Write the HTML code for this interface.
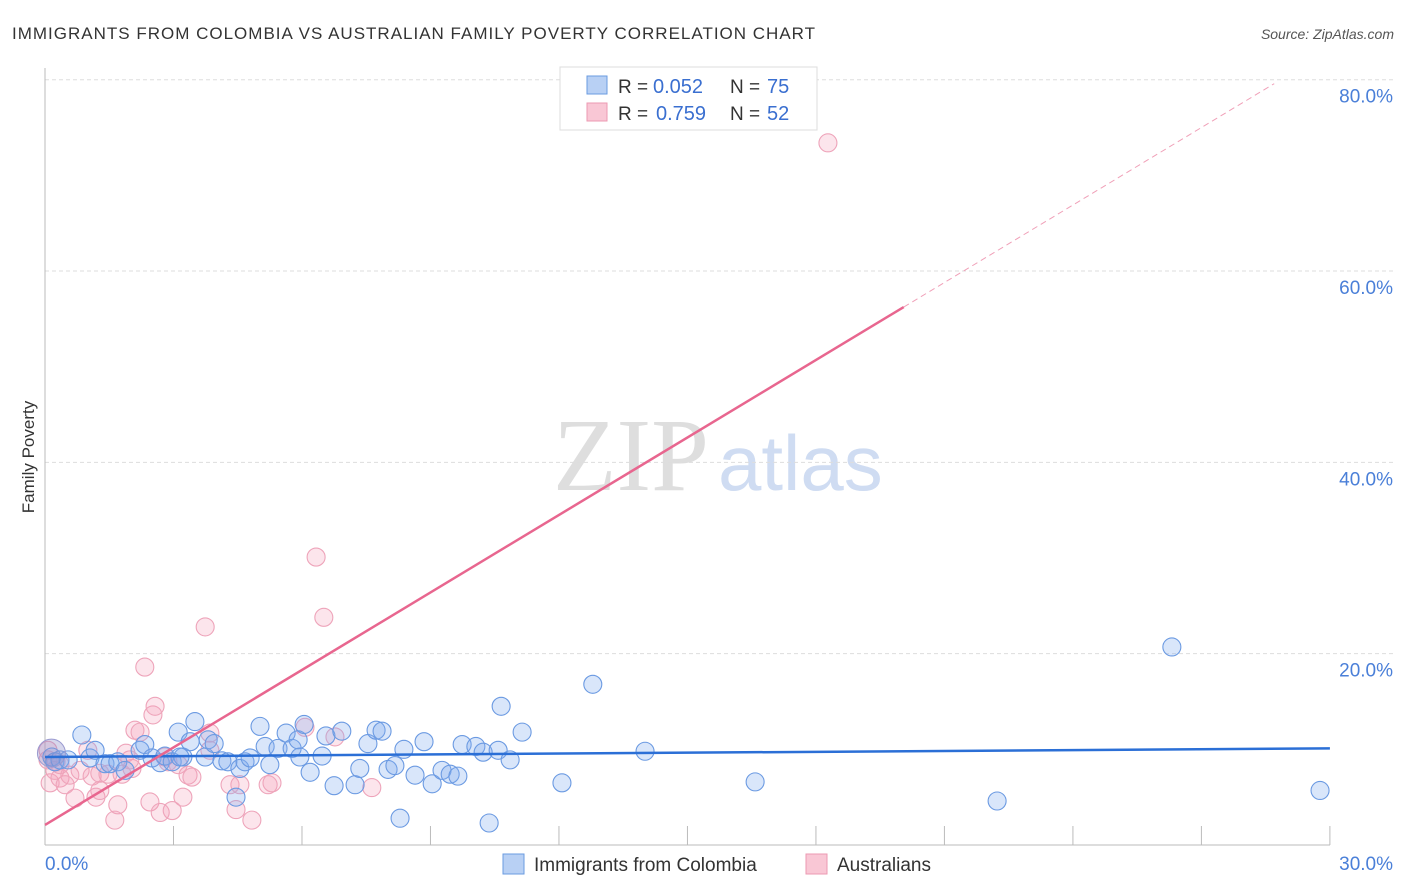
<!DOCTYPE html>
<html><head><meta charset="utf-8"><style>
body{margin:0;background:#fff;font-family:"Liberation Sans",sans-serif}
svg{display:block}
</style></head><body>
<svg id="chart" width="1406" height="892" viewBox="0 0 1406 892">
<text x="12" y="39" font-size="17" fill="#333" letter-spacing="1">IMMIGRANTS FROM COLOMBIA VS AUSTRALIAN FAMILY POVERTY CORRELATION CHART</text>
<text x="1394" y="39" font-size="14" fill="#555" font-style="italic" text-anchor="end">Source: ZipAtlas.com</text>
<g>
<text x="553" y="490" font-size="104" font-family="Liberation Serif,serif" fill="#dedede">ZIP</text>
<text x="718" y="490" font-size="78" fill="#cfdcf2">atlas</text>
</g>
<text transform="translate(34,457) rotate(-90)" font-size="17" fill="#333" text-anchor="middle">Family Poverty</text>
<g id="grid"></g><g id="axes"></g><g id="marks"></g>
<g>
<rect x="560" y="67" width="257" height="63" fill="#fff" stroke="#ddd"/>
<rect x="587" y="76" width="20" height="18" fill="#b8d0f4" stroke="#6a9be0"/>
<rect x="587" y="103" width="20" height="18" fill="#f9c7d5" stroke="#ec9ab2"/>
<text x="618" y="93" font-size="19" fill="#333">R =</text><text x="653" y="93" font-size="20" fill="#3a6fd0">0.052</text>
<text x="730" y="93" font-size="19" fill="#333">N =</text><text x="767" y="93" font-size="20" fill="#3a6fd0">75</text>
<text x="618" y="120" font-size="19" fill="#333">R =</text><text x="656" y="120" font-size="20" fill="#3a6fd0">0.759</text>
<text x="730" y="120" font-size="19" fill="#333">N =</text><text x="767" y="120" font-size="20" fill="#3a6fd0">52</text>
</g>
<g>
<rect x="503" y="854" width="21" height="20" fill="#b8d0f4" stroke="#6a9be0"/>
<text x="534" y="871" font-size="19" fill="#333">Immigrants from Colombia</text>
<rect x="806" y="854" width="21" height="20" fill="#f9c7d5" stroke="#ec9ab2"/>
<text x="837" y="871" font-size="19" fill="#333">Australians</text>
</g>
</svg>
<script>
const yTicks=[20,40,60,80];
const xTickLabels=["0.0%","30.0%"];
const blueX=[0.16,0.23,0.35,0.54,0.86,1.05,1.17,1.40,1.52,1.70,1.87,2.22,2.33,2.50,2.69,2.80,2.97,3.11,3.22,3.39,3.50,3.74,3.81,3.95,4.13,4.27,4.46,4.55,4.67,4.79,5.02,5.14,5.25,5.44,5.63,5.77,5.91,6.05,6.19,6.47,6.56,6.93,7.24,7.35,7.54,7.73,7.87,8.01,8.17,8.29,8.38,8.64,8.85,9.04,9.27,9.46,9.64,9.74,10.06,10.23,10.58,10.65,10.86,11.14,12.07,12.79,14.01,16.58,22.23,26.31,29.77,10.37,6.75,5.95,3.15];
const blueY=[9.2,8.7,8.9,8.9,11.5,9.1,9.9,8.5,8.5,8.7,7.8,9.9,10.5,9.1,8.6,9.3,8.7,11.8,9.2,10.8,12.9,9.2,11.0,10.6,8.8,8.7,5.0,8.0,8.7,9.1,12.4,10.3,8.4,10.1,11.7,10.1,11.0,12.6,7.6,9.3,11.4,11.9,6.3,8.0,10.6,12.0,11.9,7.9,8.3,2.8,10.0,7.3,10.8,6.4,7.8,7.4,7.2,10.5,10.3,9.7,9.9,14.5,8.9,11.8,6.5,16.8,9.8,6.6,4.6,20.7,5.7,2.3,6.2,9.2,9.2];
const pinkX=[0.07,0.12,0.23,0.35,0.47,0.58,0.70,0.82,1.00,1.10,1.19,1.28,1.47,1.63,1.70,1.80,1.89,2.03,2.10,2.22,2.33,2.45,2.52,2.57,2.69,2.80,2.97,3.11,3.22,3.34,3.43,3.74,3.85,4.32,4.46,4.55,4.83,5.21,5.30,6.07,6.33,6.51,6.77,7.63,18.28,0.07,0.26,1.28,1.98,2.87,3.85,0.35];
const pinkY=[9.9,6.5,7.8,7.0,6.3,7.3,4.9,7.8,9.9,7.2,5.0,7.5,7.4,2.6,4.2,7.4,9.6,8.0,12.0,11.8,18.6,4.5,13.6,14.5,3.4,9.2,3.6,8.4,5.0,7.3,7.1,22.8,11.7,6.3,3.7,6.3,2.6,6.3,6.5,12.3,30.1,23.8,11.3,6.0,73.4,8.9,8.7,5.7,8.9,8.7,9.9,8.4];
const blueTrend=[9.2,0.03];   // intercept, slope
const pinkTrend=[2.1,2.70];
const pinkSolidEnd=20.05, pinkDashEnd=28.7;
const NS="http://www.w3.org/2000/svg";
const sx=v=>45+v*42.83, sy=v=>845-v*9.566;
function mk(t,a,p){const e=document.createElementNS(NS,t);for(const k in a)e.setAttribute(k,a[k]);p.appendChild(e);return e;}
const grid=document.getElementById('grid'),axes=document.getElementById('axes'),marks=document.getElementById('marks');
yTicks.forEach(v=>{
 const l=mk('line',{x1:45,x2:1393,y1:sy(v),y2:sy(v),stroke:'#ddd','stroke-dasharray':'4,3'},grid);
 
 
 const t=mk('text',{x:1393,y:sy(v)+23,'font-size':19,fill:'#4a7fd8','text-anchor':'end'},axes);
 t.textContent=v.toFixed(1)+'%';
 
 
});
let ax=mk('line',{x1:45,x2:45,y1:68,y2:845,stroke:'#bbb'},axes);


ax=mk('line',{x1:45,x2:1330,y1:845,y2:845,stroke:'#bbb'},axes);


for(let i=1;i<=10;i++){const tk=mk('line',{x1:sx(i*3),x2:sx(i*3),y1:826,y2:845,stroke:'#bbb'},axes);
 
 }
let t0=mk('text',{x:45,y:870,'font-size':19,fill:'#4a7fd8'},axes);t0.textContent=xTickLabels[0];


let t1=mk('text',{x:1393,y:870,'font-size':19,fill:'#4a7fd8','text-anchor':'end'},axes);t1.textContent=xTickLabels[1];


pinkX.forEach((x,i)=>{const c=mk('circle',{cx:sx(x),cy:sy(pinkY[i]),r:9,fill:'rgba(244,160,185,0.28)',stroke:'#eea4ba','stroke-width':1.1},marks);
 
 });
blueX.forEach((x,i)=>{const c=mk('circle',{cx:sx(x),cy:sy(blueY[i]),r:9,fill:'rgba(130,172,238,0.3)',stroke:'#6b9ae2','stroke-width':1.1},marks);
 
 });
let big=mk('circle',{cx:sx(0.15),cy:sy(9.6),r:14,fill:'rgba(140,140,200,0.35)',stroke:'#9a9ad0'},marks);


let bl=mk('line',{x1:sx(0),y1:sy(blueTrend[0]),x2:sx(30),y2:sy(blueTrend[0]+blueTrend[1]*30),stroke:'#2b6fd6','stroke-width':2.5},marks);


let pl=mk('line',{x1:sx(0),y1:sy(pinkTrend[0]),x2:sx(pinkSolidEnd),y2:sy(pinkTrend[0]+pinkTrend[1]*pinkSolidEnd),stroke:'#e8668f','stroke-width':2.5},marks);


let pd=mk('line',{x1:sx(pinkSolidEnd),y1:sy(pinkTrend[0]+pinkTrend[1]*pinkSolidEnd),x2:sx(pinkDashEnd),y2:sy(pinkTrend[0]+pinkTrend[1]*pinkDashEnd),stroke:'#f0a0b8','stroke-width':1,'stroke-dasharray':'6,4'},marks);


</script>
</body></html>
